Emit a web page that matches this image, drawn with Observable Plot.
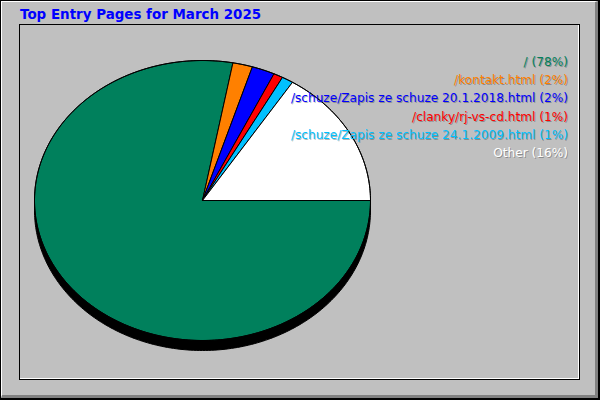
<!DOCTYPE html>
<html><head><meta charset="utf-8">
<script src="https://cdn.jsdelivr.net/npm/d3@7"></script>
<script src="https://cdn.jsdelivr.net/npm/@observablehq/plot@0.6"></script>
<style>
body{margin:0;background:#fff;}
#box{position:relative;width:600px;height:400px;background:#c0c0c0;overflow:hidden;font-family:"DejaVu Sans",sans-serif;}
#outer{position:absolute;left:0;top:0;width:600px;height:400px;box-sizing:border-box;border-left:1px solid #000;border-top:1px solid #000;border-right:2px solid #000;border-bottom:2px solid #000;}
#bevel{position:absolute;left:1px;top:1px;width:597px;height:397px;box-sizing:border-box;border-left:1px solid #fff;border-top:1px solid #fff;border-right:3px solid #808080;border-bottom:3px solid #808080;}
#frame1{position:absolute;left:19px;top:24px;width:561px;height:356px;box-sizing:border-box;border:1px solid #000;}
#frame2{position:absolute;left:20px;top:25px;width:559px;height:354px;box-sizing:border-box;border-right:1px solid #fff;border-bottom:1px solid #fff;}
#title{position:absolute;left:20px;top:7px;font-weight:bold;font-size:13.45px;line-height:15px;color:#0000ff;white-space:nowrap;}
#legend{position:absolute;right:32px;top:53px;font-size:12.15px;line-height:18.2px;text-align:right;white-space:nowrap;}
#legend div{text-shadow:1px 1px 0 rgba(0,0,0,0.28);}
#chart{position:absolute;left:0;top:0;}
</style>
</head><body>
<div id="box">
  <div id="outer"></div>
  <div id="bevel"></div>
  <div id="frame1"></div>
  <div id="frame2"></div>
  <div id="chart"></div>
  <div id="title"></div>
  <div id="legend"></div>
</div>
<script>
const title = "Top Entry Pages for March 2025";
const pages = ["/", "/kontakt.html", "/schuze/Zapis ze schuze 20.1.2018.html", "/clanky/rj-vs-cd.html", "/schuze/Zapis ze schuze 24.1.2009.html", "Other"];
const shares = [77.9, 1.9, 2.2, 0.9, 1.1, 16.0];
const pctLabels = ["78%", "2%", "2%", "1%", "1%", "16%"];
const colors = ["#00805c", "#ff8000", "#0000ff", "#ff0000", "#00c0ff", "#ffffff"];

document.getElementById("title").textContent = title;
const legend = document.getElementById("legend");
pages.forEach((p, i) => {
  const d = document.createElement("div");
  d.textContent = `${p} (${pctLabels[i]})`;
  d.style.color = colors[i];
  legend.appendChild(d);
});

// slice geometry from the data (clockwise on screen from 3 o'clock)
const arcs = d3.pie().sort(null).startAngle(0).endAngle(2 * Math.PI)(shares);
function slicePts(a0, a1) {
  const pts = [{x: 0, y: 0}];
  const n = Math.max(2, Math.ceil((a1 - a0) / (Math.PI / 180)));
  for (let k = 0; k <= n; k++) {
    const t = a0 + (a1 - a0) * k / n;
    pts.push({x: Math.cos(-t), y: Math.sin(-t)});
  }
  pts.push({x: 0, y: 0});
  return pts;
}
const ellipse = d3.range(0, 361).map(d => ({x: Math.cos(d * Math.PI / 180), y: Math.sin(d * Math.PI / 180)}));

const chart = Plot.plot({
  width: 600,
  height: 400,
  margin: 0,
  x: {domain: [-1, 1], range: [34, 370], axis: null},
  y: {domain: [-1, 1], range: [340, 60], axis: null},
  style: {background: "transparent", overflow: "visible"},
  marks: [
    Plot.line(ellipse, {x: "x", y: "y", fill: "#000", stroke: "#000", strokeWidth: 1, dy: 10}),
    ...arcs.map((a, i) => Plot.line(slicePts(a.startAngle, a.endAngle), {x: "x", y: "y", fill: colors[i], stroke: "#000", strokeWidth: 1})),
    Plot.line(ellipse, {x: "x", y: "y", stroke: "#000", strokeWidth: 1})
  ]
});
document.getElementById("chart").appendChild(chart);
</script>
</body></html>
